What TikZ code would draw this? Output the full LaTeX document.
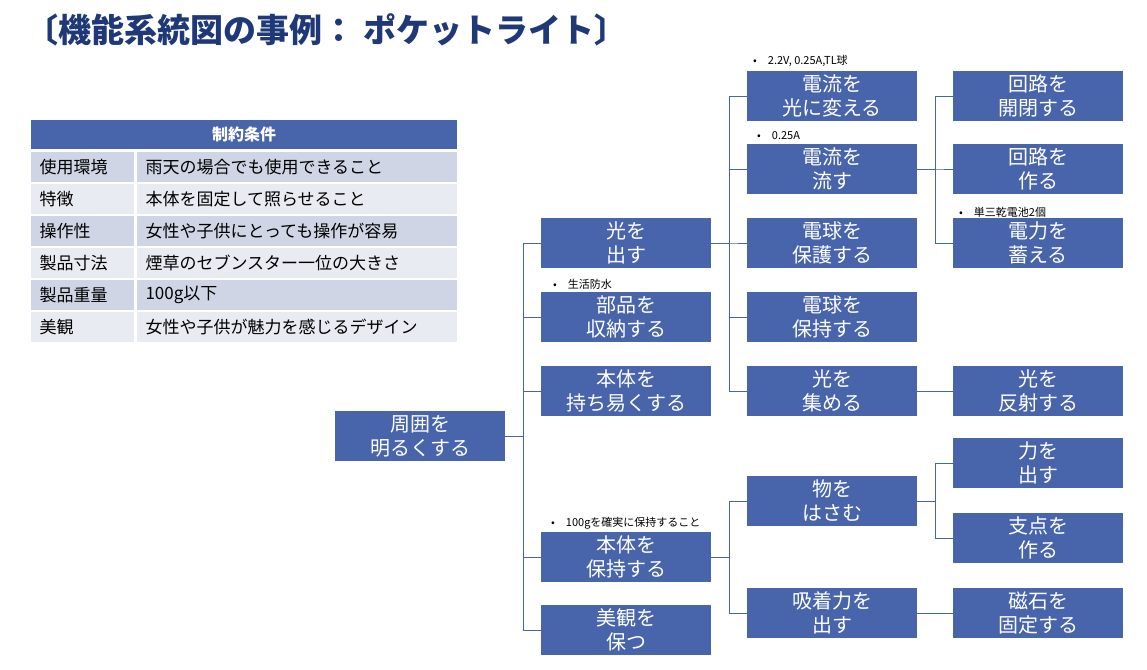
\documentclass[tikz,border=0pt]{standalone}
\usepackage{fontspec}
\setmainfont{Noto Sans CJK JP}
\usetikzlibrary{positioning, calc}
\definecolor{boxblue}{RGB}{72,100,170}
\definecolor{rowdark}{RGB}{207,213,229}
\definecolor{rowlight}{RGB}{233,235,242}
\definecolor{titleblue}{RGB}{31,56,120}
\tikzset{fbox/.style = {fill=boxblue, text=white, minimum width=170pt, minimum height=50pt, inner sep=0pt, align=center, font=\fontsize{20}{24}\selectfont},
	link/.style = {draw=boxblue, thick},
	cell/.style = {anchor=west, font=\fontsize{17}{20}\selectfont},
	note/.style = {anchor=base west, font=\fontsize{11}{12}\selectfont, inner sep=0pt}}

\begin{document}
\begin{tikzpicture}[x=1pt, y=-1pt]
	\def\cA{420}
	\def\cB{626}
	\def\cC{832}
	\def\cD{1038}
	\useasboundingbox (0,0) rectangle (1147,669);

	\node[anchor=west, text=titleblue, font=\fontsize{33}{36}\selectfont\bfseries] (title) at (22,30) {〔機能系統図の事例： ポケットライト〕};

	% constraint table
	\fill[boxblue] (31,120) rectangle (457,149);
	\node[text=white, font=\fontsize{16}{18}\selectfont\bfseries] (thead) at (244,134.5) {制約条件};
	\foreach \k/\b [count=\i from 0] in {使用環境/雨天の場合でも使用できること, 特徴/本体を固定して照らせること, 操作性/女性や子供にとっても操作が容易, 製品寸法/煙草のセブンスター一位の大きさ, 製品重量/100g以下, 美観/女性や子供が魅力を感じるデザイン}{
		\pgfmathsetmacro{\rowtop}{152+32*\i}
		\pgfmathparse{int(mod(\i,2))}
		\ifnum\pgfmathresult=0 \def\rc{rowdark}\else\def\rc{rowlight}\fi
		\fill[\rc] (31,\rowtop) rectangle (134,\rowtop+30);
		\fill[\rc] (137,\rowtop) rectangle (457,\rowtop+30);
		\node[cell] (key\i) at (36,\rowtop+15) {\k};
		\node[cell] (val\i) at (142,\rowtop+15) {\b};
	}

	% function tree
	\node[fbox] (root) at (\cA,436) {周囲を\\明るくする};

	\node[fbox] (light) at (\cB,243) {光を\\出す};
	\node[fbox] (store) at (\cB,317) {部品を\\収納する};
	\node[fbox] (grip) at (\cB,391) {本体を\\持ち易くする};
	\node[fbox] (hold) at (\cB,557) {本体を\\保持する};
	\node[fbox] (look) at (\cB,630) {美観を\\保つ};

	\node[fbox] (conv) at (\cC,96) {電流を\\光に変える};
	\node[fbox] (flow) at (\cC,169) {電流を\\流す};
	\node[fbox] (guard) at (\cC,243) {電球を\\保護する};
	\node[fbox] (bulb) at (\cC,317) {電球を\\保持する};
	\node[fbox] (focus) at (\cC,391) {光を\\集める};
	\node[fbox] (pinch) at (\cC,501) {物を\\はさむ};
	\node[fbox] (magnet) at (\cC,613) {吸着力を\\出す};

	\node[fbox] (switch) at (\cD,96) {回路を\\開閉する};
	\node[fbox] (circuit) at (\cD,169) {回路を\\作る};
	\node[fbox] (power) at (\cD,243) {電力を\\蓄える};
	\node[fbox] (reflect) at (\cD,391) {光を\\反射する};
	\node[fbox] (force) at (\cD,463) {力を\\出す};
	\node[fbox] (pivot) at (\cD,538) {支点を\\作る};
	\node[fbox] (fix) at (\cD,613) {磁石を\\固定する};

	% connectors
	\foreach \p/\kids in {root/{light,store,grip,hold,look}, light/{conv,flow,guard,bulb,focus}, hold/{pinch,magnet}, flow/{switch,circuit,power}, pinch/{force,pivot}}{
		\foreach \c in \kids{
			\draw[link] (\p.east) -- ++(18,0) |- (\c.west);
		}
	}
	\draw[link] (focus) -- (reflect);
	\draw[link] (magnet) -- (fix);

	% notes
	\node[note] (n1) at (753,64) {•\quad 2.2V,\ 0.25A,TL球};
	\node[note] (n2) at (757,139) {•\quad 0.25A};
	\node[note] (n3) at (959,216) {•\quad 単三乾電池2個};
	\node[note] (n4) at (553,288) {•\quad 生活防水};
	\node[note] (n5) at (551,526) {•\quad 100gを確実に保持すること};
\end{tikzpicture}
\end{document}
